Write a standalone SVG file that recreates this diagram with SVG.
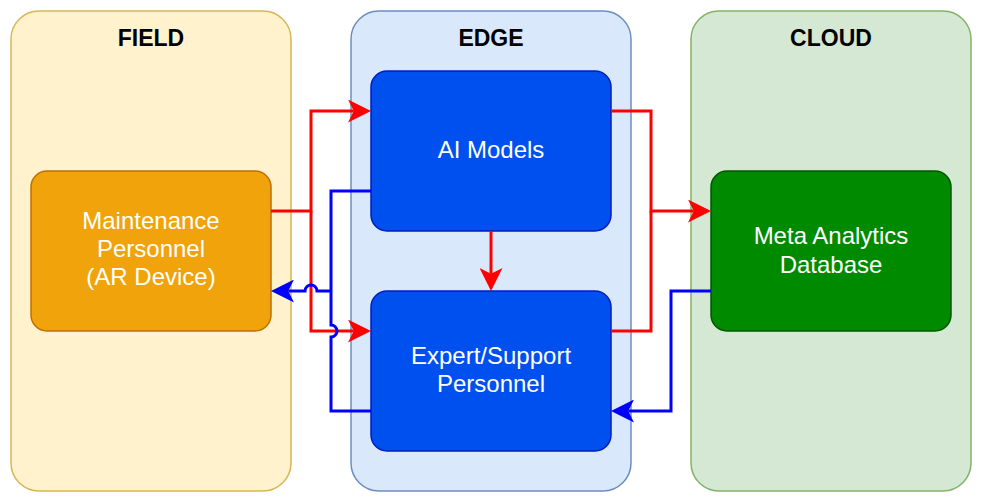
<svg xmlns="http://www.w3.org/2000/svg" width="984" height="502" viewBox="0 0 984 502">
<defs>
<style>
.title{font-family:"Liberation Sans",Arial,sans-serif;font-size:23px;font-weight:bold;fill:#000;text-anchor:middle}
.lbl{font-family:"Liberation Sans",Arial,sans-serif;font-size:24px;fill:#fff;text-anchor:middle}
.red{fill:none;stroke:#ff0000;stroke-width:3}
.blue{fill:none;stroke:#0000ff;stroke-width:3}
</style>
<marker id="ar" markerUnits="userSpaceOnUse" markerWidth="23" markerHeight="23" viewBox="0 0 23 23" refX="5.75" refY="11.5" orient="auto">
<path d="M23,11.5 L0,0 L5.75,11.5 L0,23 Z" fill="#ff0000"/>
</marker>
<marker id="ab" markerUnits="userSpaceOnUse" markerWidth="23" markerHeight="23" viewBox="0 0 23 23" refX="5.75" refY="11.5" orient="auto">
<path d="M23,11.5 L0,0 L5.75,11.5 L0,23 Z" fill="#0000ff"/>
</marker>
</defs>
<rect width="984" height="502" fill="#ffffff"/>
<g id="field">
<rect x="11" y="11" width="280" height="480" rx="28" fill="#fff2cc" stroke="#d6b656" stroke-width="1.5"/>
<text class="title" x="151" y="46">FIELD</text>
</g>
<g id="edge">
<rect x="351" y="11" width="280" height="480" rx="28" fill="#dae8fc" stroke="#6c8ebf" stroke-width="1.5"/>
<text class="title" x="491" y="46">EDGE</text>
</g>
<g id="cloud">
<rect x="691" y="11" width="280" height="480" rx="28" fill="#d5e8d4" stroke="#82b366" stroke-width="1.5"/>
<text class="title" x="831" y="46">CLOUD</text>
</g>
<g id="maintenance">
<rect x="31" y="171" width="240" height="160" rx="16" fill="#f0a30a" stroke="#bd7000" stroke-width="1.5"/>
<text class="lbl" x="151" y="228.5">Maintenance</text>
<text class="lbl" x="151" y="256.5">Personnel</text>
<text class="lbl" x="151" y="284.5">(AR Device)</text>
</g>
<g id="ai-models">
<rect x="371" y="71" width="240" height="160" rx="16" fill="#0050ef" stroke="#001dbc" stroke-width="1.5"/>
<text class="lbl" x="491" y="158">AI Models</text>
</g>
<g id="expert">
<rect x="371" y="291" width="240" height="160" rx="16" fill="#0050ef" stroke="#001dbc" stroke-width="1.5"/>
<text class="lbl" x="491" y="363.5">Expert/Support</text>
<text class="lbl" x="491" y="392">Personnel</text>
</g>
<g id="meta">
<rect x="711" y="171" width="240" height="160" rx="16" fill="#008a00" stroke="#005700" stroke-width="1.5"/>
<text class="lbl" x="831" y="243.5">Meta Analytics</text>
<text class="lbl" x="831" y="272.5">Database</text>
</g>
<g id="connectors">
<path class="red" d="M271,211 H311 V111 H353.75" marker-end="url(#ar)"/>
<path class="red" d="M311,211 V331 H353.75" marker-end="url(#ar)"/>
<path class="red" d="M491,231 V273.75" marker-end="url(#ar)"/>
<path class="red" d="M611,111 H651 V211 H693.75" marker-end="url(#ar)"/>
<path class="red" d="M611,331 H651 V211"/>
<path class="blue" d="M371,191 H331 V325 A6,6 0 0 1 331,337 V411 H371"/>
<path class="blue" d="M331,291 H317 A6,6 0 0 0 305,291 H288.25" marker-end="url(#ab)"/>
<path class="blue" d="M711,291 H671 V411 H628.25" marker-end="url(#ab)"/>
</g>
</svg>
